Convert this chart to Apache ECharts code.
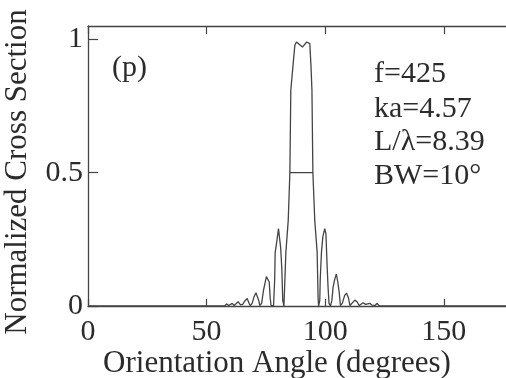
<!DOCTYPE html>
<html>
<head>
<meta charset="utf-8">
<script src="https://cdn.jsdelivr.net/npm/echarts@6/dist/echarts.min.js"></script>
<style>
html,body{margin:0;padding:0;background:#fff;}
#chart{width:506px;height:378px;}
</style>
</head>
<body>
<div id="chart"></div>
<script>
// Orientation angle (degrees) and normalized cross section
var angle = [
  0, 57.6, 58.4, 59.3,
  60.0, 60.8, 61.6,
  62.3, 63.3, 64.3,
  65.2, 66.2, 67.1, 67.9, 68.4,
  69.2, 70.0, 70.8, 71.4, 72.0, 72.4,
  73.2, 74.0, 74.6, 75.2, 75.8, 76.4, 76.8, 77.2,
  78.2, 78.7, 78.9, 79.7, 80.3, 80.6, 81.2, 81.7, 82.1, 82.6,
  83.3, 83.4, 84.4, 85.1, 85.5, 86.5, 87.2, 87.9, 88.6, 90.4, 92.2, 92.8, 93.5, 94.0, 94.4, 94.8, 95.6, 96.6, 97.0, 97.2,
  97.7, 97.9, 98.4, 99.0, 99.8, 100.3, 100.8, 101.2, 101.6, 102.2,
  102.8, 103.3, 104.0, 104.7, 105.3, 105.9, 106.4,
  107.2, 108.2, 109.0, 109.8, 110.4,
  111.2, 112.5, 113.5, 114.3,
  115.0, 116.0, 117.0, 117.8,
  118.8, 119.8, 121.0, 121.9, 122.8,
  180
];
var crossSection = [
  0, 0, 0.008, 0.002,
  0.002, 0.01, 0.002,
  0.003, 0.016, 0.004,
  0.006, 0.02, 0.028, 0.01, 0.002,
  0.01, 0.035, 0.05, 0.052, 0.02, 0.002,
  0.01, 0.06, 0.085, 0.11, 0.115, 0.09, 0.03, 0.002,
  0, 0.1, 0.2, 0.25, 0.29, 0.295, 0.22, 0.14, 0.02, 0,
  0, 0.2, 0.32, 0.5, 0.81, 0.91, 0.978, 0.99, 0.985, 0.971, 0.99, 0.994, 0.984, 0.9, 0.81, 0.5, 0.32, 0.2, 0.03, 0,
  0.02, 0.1, 0.2, 0.26, 0.29, 0.27, 0.15, 0.07, 0.01, 0,
  0.02, 0.07, 0.1, 0.12, 0.09, 0.05, 0.002,
  0.01, 0.04, 0.048, 0.03, 0.002,
  0.005, 0.022, 0.015, 0.002,
  0.003, 0.012, 0.006, 0.002,
  0.01, 0.003, 0.002, 0.01, 0,
  0
];
// half-power beamwidth marker
var bwAngle = [85.1, 94.8];
var bwLevel = [0.5, 0.5];

var xTicks = [0, 50, 100, 150];
var yTicks = [0, 0.5, 1];
var notes = ['f=425', 'ka=4.57', 'L/\u03bb=8.39', 'BW=10\u00b0'];
var panelLabel = '(p)';
var xTitle = 'Orientation Angle (degrees)';
var yTitle = 'Normalized Cross Section';

var mainData = angle.map(function (a, i) { return [a, crossSection[i]]; });
var bwData = bwAngle.map(function (a, i) { return [a, bwLevel[i]]; });

var ink = '#2b2b2b';
var lineInk = '#444';
var serif = '"Liberation Serif", "DejaVu Serif", serif';

var chart = echarts.init(document.getElementById('chart'), null, {renderer: 'canvas'});
var option = {
  animation: false,
  backgroundColor: '#fff',
  grid: {left: 88, top: 26, width: 427, height: 280, containLabel: false, outerBoundsMode: 'none'},
  xAxis: [{
    type: 'value', min: 0, max: 180, position: 'bottom',
    axisLine: {show: true, lineStyle: {color: lineInk, width: 1.3}},
    axisTick: {show: true, inside: true, length: 7, customValues: xTicks, lineStyle: {color: lineInk, width: 1.2}},
    axisLabel: {show: true, customValues: xTicks, margin: 11, fontFamily: serif, fontSize: 30, color: ink},
    splitLine: {show: false}
  }, {
    type: 'value', min: 0, max: 180, position: 'top',
    axisLine: {show: true, onZero: false, lineStyle: {color: lineInk, width: 1.3}},
    axisTick: {show: true, inside: true, length: 8, customValues: xTicks, lineStyle: {color: lineInk, width: 1.2}},
    axisLabel: {show: false},
    splitLine: {show: false}
  }],
  yAxis: [{
    type: 'value', min: 0, max: 1.05, position: 'left',
    axisLine: {show: true, lineStyle: {color: lineInk, width: 1.3}},
    axisTick: {show: true, inside: true, length: 10, customValues: yTicks, lineStyle: {color: lineInk, width: 1.2}},
    axisLabel: {show: true, customValues: yTicks, margin: 5, fontFamily: serif, fontSize: 30, color: ink},
    splitLine: {show: false}
  }],
  series: [{
    type: 'line', data: mainData, showSymbol: false, symbol: 'none',
    lineStyle: {color: lineInk, width: 1.3}, z: 3
  }, {
    type: 'line', data: bwData, showSymbol: false, symbol: 'none',
    lineStyle: {color: lineInk, width: 1.3}, z: 3
  }],
  graphic: [
    {type: 'text', left: 112, top: 53, style: {text: panelLabel, font: '30px ' + serif, fill: ink}},
    {type: 'text', left: 374, top: 59, style: {text: notes[0], font: '30px ' + serif, fill: ink}},
    {type: 'text', left: 374, top: 94, style: {text: notes[1], font: '30px ' + serif, fill: ink}},
    {type: 'text', left: 374, top: 127, style: {text: notes[2], font: '30px ' + serif, fill: ink}},
    {type: 'text', left: 374, top: 161, style: {text: notes[3], font: '30px ' + serif, fill: ink}},
    {type: 'text', x: 277, y: 364, style: {text: xTitle, font: '31px ' + serif, fill: ink, align: 'center', verticalAlign: 'middle'}},
    {type: 'text', x: 18, y: 172, rotation: Math.PI / 2, style: {text: yTitle, font: '31px ' + serif, fill: ink, align: 'center', verticalAlign: 'middle'}}
  ]
};
chart.setOption(option);
</script>
</body>
</html>
